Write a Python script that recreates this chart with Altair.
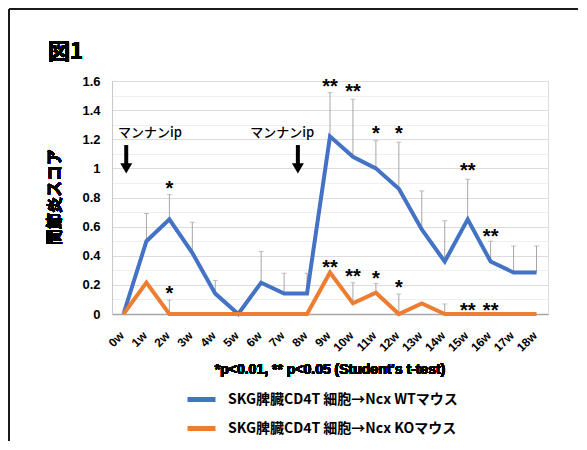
import altair as alt
import pandas as pd

# ---------------- data ----------------
weeks = list(range(19))
wt_label = "SKG脾臓CD4T 細胞→Ncx WTマウス"
ko_label = "SKG脾臓CD4T 細胞→Ncx KOマウス"
series_names = [wt_label, ko_label]
series_colors = ["#4472C4", "#ED7D31"]

wt_values = [0, 0.50, 0.65, 0.42, 0.14, 0, 0.215, 0.14, 0.14, 1.22, 1.08, 1.0,
             0.86, 0.58, 0.36, 0.65, 0.36, 0.285, 0.285]
wt_err_top = [None, 0.69, 0.82, 0.63, 0.23, None, 0.43, 0.28, 0.28, 1.52, 1.475,
              1.19, 1.18, 0.845, 0.64, 0.925, 0.50, 0.467, 0.467]
ko_values = [0, 0.215, 0, 0, 0, 0, 0, 0, 0, 0.285, 0.073, 0.146, 0, 0.073, 0,
             0, 0, 0, 0]
ko_err_top = [None, None, 0.096, None, None, None, None, None, None, None, 0.215,
              0.21, 0.137, None, 0.069, None, None, None, None]

wt_stars = ["", "", "*", "", "", "", "", "", "", "**", "**", "*", "*", "", "",
            "**", "**", "", ""]
wt_star_y = [None, None, 0.886, None, None, None, None, None, None, 1.589, 1.55,
             1.264, 1.264, None, None, 1.008, 0.554, None, None]
ko_stars = ["", "", "*", "", "", "", "", "", "", "**", "**", "*", "*", "", "",
            "**", "**", "", ""]
ko_star_y = [None, None, 0.165, None, None, None, None, None, None, 0.34, 0.279,
             0.268, 0.206, None, None, 0.05, 0.05, None, None]

annot_text = ["マンナンip", "マンナンip"]
annot_x = [1.16, 6.92]
annot_y = [1.243, 1.243]
arrow_x = [0.12, 7.6]
arrow_top = [1.16, 1.16]
arrow_end = [1.03, 1.03]
arrow_head = [1.0, 1.0]

y_ticks = [round(i * 0.1, 1) for i in range(17)]

FONT_LATIN = "Liberation Sans"
FONT_JP = "Noto Sans CJK JP"

rows = []
for name, vals, errs, stars, sy in [
    (wt_label, wt_values, wt_err_top, wt_stars, wt_star_y),
    (ko_label, ko_values, ko_err_top, ko_stars, ko_star_y),
]:
    for w, v, e, s, y in zip(weeks, vals, errs, stars, sy):
        rows.append(dict(week=w, series=name, value=v, err=e, star=s, star_y=y))
df = pd.DataFrame(rows)
err_df = df.dropna(subset=["err"])
star_df = df[df["star"] != ""]

annot_df = pd.DataFrame(dict(text=annot_text, x=annot_x, y=annot_y))
arrow_df = pd.DataFrame(dict(x=arrow_x, top=arrow_top, end=arrow_end, head=arrow_head))

x_scale = alt.Scale(domain=[-0.5, 18.5], nice=False, zero=False)
y_scale = alt.Scale(domain=[0, 1.6], nice=False)

x_axis = alt.Axis(
    values=weeks, labelExpr="datum.value + 'w'", title=None, grid=False,
    ticks=False, labelAngle=315, labelAlign="right", labelBaseline="middle",
    labelPadding=19, labelOffset=-2, labelFont=FONT_LATIN, labelFontWeight="bold",
    labelFontSize=12, labelColor="#000000", domainColor="#A6A6A6",
    domainWidth=1.5, labelOverlap=False, labelBound=False, labelFlush=False,
)
y_axis = alt.Axis(
    values=y_ticks, title=None, ticks=False,
    labelExpr="round(datum.value*10) % 2 == 0 ? format(datum.value, '~g') : ''",
    labelFont=FONT_LATIN, labelFontWeight="bold", labelFontSize=13,
    labelColor="#000000", labelPadding=12, domainColor="#C8C8C8",
    labelOverlap=False, labelBound=False, labelFlush=False,
    gridColor={"condition": {"test": "round(datum.value*10) % 2 == 0",
                             "value": "#DCDCDC"}, "value": "#EFEFEF"},
    gridWidth=1.2,
)


def X(field):
    return alt.X(field, scale=x_scale, axis=x_axis)


def Y(field):
    return alt.Y(field, scale=y_scale, axis=y_axis)


color = alt.Color(
    "series:N",
    scale=alt.Scale(domain=series_names, range=series_colors),
    legend=alt.Legend(
        title=None, orient="none", legendX=73, legendY=302, direction="vertical",
        symbolType="stroke", symbolSize=784, symbolStrokeWidth=5,
        labelFont=FONT_JP, labelFontWeight="bold", labelFontSize=14,
        labelColor="#000000", labelOffset=10, rowPadding=2, padding=0,
        labelLimit=400,
    ),
    sort=series_names,
)

err_rules = alt.Chart(err_df).mark_rule(color="#A6A6A6", strokeWidth=1).encode(
    x=X("week:Q"), y=Y("value:Q"), y2="err:Q",
)
err_caps = alt.Chart(err_df).mark_tick(
    color="#A6A6A6", orient="horizontal", size=5, thickness=1
).encode(x=X("week:Q"), y=Y("err:Q"))

lines = alt.Chart(df).mark_line(strokeWidth=4, strokeJoin="miter").encode(
    x=X("week:Q"), y=Y("value:Q"), color=color, order="week:Q",
    detail="series:N",
)

stars = alt.Chart(star_df).mark_text(
    font=FONT_LATIN, fontWeight="bold", fontSize=20, baseline="alphabetic",
    dy=10, color="#000000",
).encode(x=X("week:Q"), y=Y("star_y:Q"), text="star:N")

annots = alt.Chart(annot_df).mark_text(
    font=FONT_JP, fontSize=13, fontWeight=500, baseline="middle", align="center",
    color="#000000",
).encode(x=X("x:Q"), y=Y("y:Q"), text="text:N")

arrow_shafts = alt.Chart(arrow_df).mark_rule(color="#000000", strokeWidth=4).encode(
    x=X("x:Q"), y=Y("top:Q"), y2="end:Q"
)
arrow_heads = alt.Chart(arrow_df).mark_point(
    shape="M-1,-0.85L1,-0.85L0,0.85Z", filled=True, size=144, color="#000000",
    opacity=1,
).encode(x=X("x:Q"), y=Y("head:Q"))

fig_title = alt.Chart(df).mark_text(
    text="図1", font=FONT_JP, fontWeight="bold", fontSize=22, align="left",
    baseline="middle", color="#000000",
).encode(x=alt.value(-64), y=alt.value(-29))

y_title = alt.Chart(df).mark_text(
    text="関節炎スコア", font=FONT_JP, fontWeight="bold", fontSize=16,
    angle=270, align="center", baseline="middle", color="#000000",
).encode(x=alt.value(-57), y=alt.value(116))

footnote = alt.Chart(df).mark_text(
    text="*p<0.01, ** p<0.05 (Student's t-test)", font=FONT_LATIN,
    fontWeight="bold", fontSize=14, align="center", baseline="middle",
    color="#000000",
).encode(x=alt.value(218), y=alt.value(289))

border_top = alt.Chart(df).mark_rule(color="#1A1A1A", strokeWidth=2).encode(
    x=alt.value(-103), x2=alt.value(470), y=alt.value(-72)
)
border_left = alt.Chart(df).mark_rule(color="#1A1A1A", strokeWidth=2).encode(
    x=alt.value(-103), y=alt.value(-72), y2=alt.value(400)
)

chart = alt.layer(
    err_rules, lines, err_caps, stars, annots, arrow_shafts, arrow_heads,
    fig_title, y_title, footnote, border_top, border_left,
).properties(
    width=436, height=233,
    autosize=alt.AutoSizeParams(type="none"),
    padding={"left": 104, "top": 73, "right": 30, "bottom": 127},
).configure_view(stroke=None).configure(background="#FFFFFF")

chart.save("out.html", embed_options={"renderer": "svg", "actions": False})
